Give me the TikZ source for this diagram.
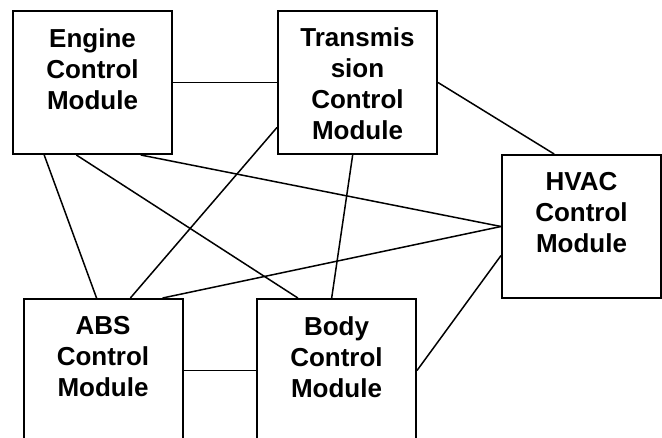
\documentclass[tikz,border=0pt]{standalone}
\usepackage{fontspec}
\setmainfont{Liberation Sans}
\usetikzlibrary{calc,positioning}
\begin{document}
\begin{tikzpicture}[x=1pt,y=-1pt,
  module/.style={draw=black,line width=2pt,fill=white,minimum width=159pt,minimum height=143pt,inner sep=0pt},
  caption/.style={align=center,inner sep=0pt,font=\bfseries\fontsize{26}{31}\selectfont},
  bus/.style={draw=black,line width=1.5pt}]
  \useasboundingbox (0,0) rectangle (662,437);
  \clip (0,0) rectangle (662,437);

  % module boxes (centres in pixel coordinates)
  \coordinate (pEng) at (92.5,82.5);
  \coordinate (pTrn) at (357.5,82.5);
  \coordinate (pHvac) at (581.5,226.5);
  \coordinate (pAbs) at (103,370.5);
  \coordinate (pBody) at (336.5,370.5);

  % bus links drawn first so the boxes sit on top
  \node[module,draw=none,fill=none] (eng) at (pEng) {};
  \node[module,draw=none,fill=none] (trn) at (pTrn) {};
  \node[module,draw=none,fill=none] (hvac) at (pHvac) {};
  \node[module,draw=none,fill=none] (abs) at (pAbs) {};
  \node[module,draw=none,fill=none] (body) at (pBody) {};

  \draw[bus] (eng.east) -- (trn.west);
  \draw[bus] (trn.east) -- ($(hvac.north west)!0.33!(hvac.north east)$);
  \draw[bus] ($(eng.south west)!0.20!(eng.south east)$) -- ($(abs.north west)!0.46!(abs.north east)$);
  \draw[bus] ($(eng.south west)!0.40!(eng.south east)$) -- ($(body.north west)!0.26!(body.north east)$);
  \draw[bus] ($(eng.south west)!0.80!(eng.south east)$) -- (hvac.west);
  \draw[bus] ($(trn.north west)!0.81!(trn.south west)$) -- ($(abs.north west)!0.67!(abs.north east)$);
  \draw[bus] ($(trn.south west)!0.47!(trn.south east)$) -- ($(body.north west)!0.47!(body.north east)$);
  \draw[bus] (hvac.west) -- ($(abs.north west)!0.87!(abs.north east)$);
  \draw[bus] ($(hvac.north west)!0.70!(hvac.south west)$) -- (body.east);
  \draw[bus] (abs.east) -- (body.west);

  % boxes
  \node[module] (engBox) at (pEng) {};
  \node[module] (trnBox) at (pTrn) {};
  \node[module] (hvacBox) at (pHvac) {};
  \node[module] (absBox) at (pAbs) {};
  \node[module] (bodyBox) at (pBody) {};

  % captions
  \node[caption,anchor=north] (engTxt) at ($(engBox.north)+(0,18)$) {Engine\\Control\\Module};
  \node[caption,anchor=north] (trnTxt) at ($(trnBox.north)+(0,17.5)$) {Transmis\\sion\\Control\\Module};
  \node[caption,anchor=north] (hvacTxt) at ($(hvacBox.north)+(0,18)$) {HVAC\\Control\\Module};
  \node[caption,anchor=north] (absTxt) at ($(absBox.north)+(0,18)$) {ABS\\Control\\Module};
  \node[caption,anchor=north] (bodyTxt) at ($(bodyBox.north)+(0,18)$) {Body\\Control\\Module};
\end{tikzpicture}
\end{document}
